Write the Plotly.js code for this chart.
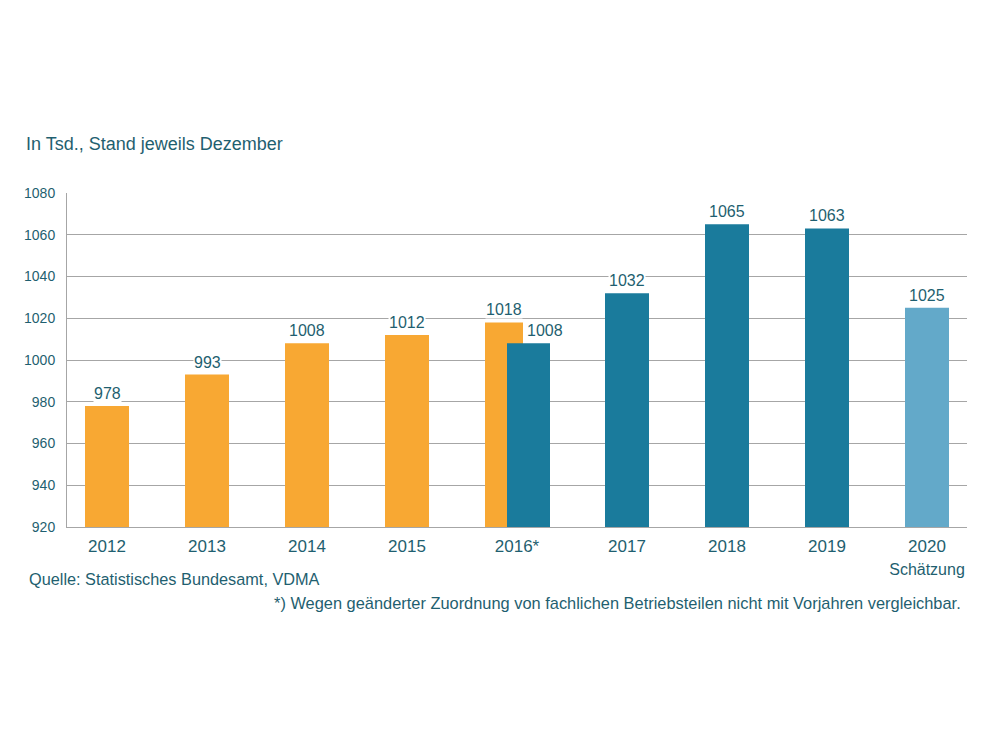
<!DOCTYPE html>
<html>
<head>
<meta charset="utf-8">
<script src="https://cdn.plot.ly/plotly-3.0.1.min.js"></script>
<style>
  html, body { margin: 0; padding: 0; background: #fff; }
  #chart { width: 1000px; height: 750px; }
</style>
</head>
<body>
<div id="chart"></div>
<script>
// Beschäftigte im Maschinenbau, in Tsd. (Stand jeweils Dezember)
const categories = ['2012', '2013', '2014', '2015', '2016*', '2017', '2018', '2019', '2020'];
const tickLabels = ['2012', '2013', '2014', '2015', '2016*', '2017', '2018', '2019',
  '2020<br><span style="font-size:16px">Schätzung</span>'];

// Alte Zuordnung (bis 2016)
const oldYears = ['2012', '2013', '2014', '2015', '2016*'];
const oldValues = [978, 993, 1008, 1012, 1018];

// Neue Zuordnung (ab 2016)
const newYears = ['2016*', '2017', '2018', '2019'];
const newValues = [1008, 1032, 1065, 1063];

// Schätzung
const estYears = ['2020'];
const estValues = [1025];

const COL_OLD = '#f8a833';
const COL_NEW = '#1a7b9c';
const COL_EST = '#63a9c9';
const TXT = '#1f5f70';
const FONT = 'Liberation Sans, Arial, sans-serif';

// slot layout: the 2016* slot holds two bars and is a little wider
const SPLIT = '2016*';
const SPLIT_EXTRA = 0.2;
function slot(cat) {
  const i = categories.indexOf(cat);
  const s = categories.indexOf(SPLIT);
  return i + (i > s ? SPLIT_EXTRA : i === s ? SPLIT_EXTRA / 2 : 0);
}

const BAR_W = 0.44;
// [shift from slot centre, width, label shift] for bars in the split slot
const oldSplit = { shift: -0.13, w: 0.38, lab: 0.0 };
const newSplit = { shift: 0.115, w: 0.43, lab: 0.165 };

function centers(xs, sp) { return xs.map(c => slot(c) + (c === SPLIT ? sp.shift : 0)); }
function widths(xs, sp) { return xs.map(c => c === SPLIT ? sp.w : BAR_W); }

function barTrace(xs, ys, color, sp) {
  return {
    type: 'bar', x: centers(xs, sp), y: ys, width: widths(xs, sp),
    marker: { color: color }, hoverinfo: 'y'
  };
}

const traces = [
  barTrace(oldYears, oldValues, COL_OLD, oldSplit),
  barTrace(newYears, newValues, COL_NEW, newSplit),
  barTrace(estYears, estValues, COL_EST, {})
];

// value labels on white boxes above each bar
function labels(xs, ys, sp) {
  const cx = centers(xs, sp);
  return xs.map((c, i) => ({
    x: cx[i] + (c === SPLIT ? sp.lab : 0), y: ys[i], xref: 'x', yref: 'y',
    text: String(ys[i]), showarrow: false, yanchor: 'bottom', yshift: 3,
    bgcolor: '#ffffff', borderpad: 0,
    font: { family: FONT, size: 16, color: TXT }
  }));
}

const annotations = [
  ...labels(oldYears, oldValues, oldSplit),
  ...labels(newYears, newValues, newSplit),
  ...labels(estYears, estValues, {}),
  {
    xref: 'paper', yref: 'paper', x: -0.0445, y: -0.157, xanchor: 'left', yanchor: 'middle',
    text: 'Quelle: Statistisches Bundesamt, VDMA', showarrow: false,
    font: { family: FONT, size: 16.3, color: TXT }
  },
  {
    xref: 'paper', yref: 'paper', x: 0.996, y: -0.229, xanchor: 'right', yanchor: 'middle',
    text: '*) Wegen geänderter Zuordnung von fachlichen Betriebsteilen nicht mit Vorjahren vergleichbar.',
    showarrow: false,
    font: { family: FONT, size: 16.4, color: TXT }
  }
];

const layout = {
  width: 1000, height: 750,
  paper_bgcolor: '#ffffff', plot_bgcolor: '#ffffff',
  margin: { l: 67, r: 33, t: 193, b: 223 },
  showlegend: false,
  barmode: 'overlay',
  font: { family: FONT, color: TXT },
  title: {
    text: 'In Tsd., Stand jeweils Dezember',
    xref: 'container', yref: 'container', x: 0.026, y: 0.809,
    xanchor: 'left', yanchor: 'middle',
    font: { family: FONT, size: 18, color: TXT }
  },
  xaxis: {
    range: [-0.40, 8.6],
    tickvals: categories.map(slot), ticktext: tickLabels,
    showgrid: false, zeroline: false, ticks: '', ticklabelstandoff: 4,
    showline: true, linecolor: '#a6a6a6', linewidth: 1,
    tickfont: { size: 17, color: TXT }
  },
  yaxis: {
    range: [920, 1080], dtick: 20, tick0: 920,
    showgrid: true, gridcolor: '#a6a6a6', gridwidth: 1,
    zeroline: false, showline: true, linecolor: '#a6a6a6', linewidth: 1,
    ticks: '', ticklabelstandoff: 8,
    tickfont: { size: 14, color: TXT }
  },
  annotations: annotations
};

Plotly.newPlot('chart', traces, layout, { displayModeBar: false, staticPlot: true });
</script>
</body>
</html>
